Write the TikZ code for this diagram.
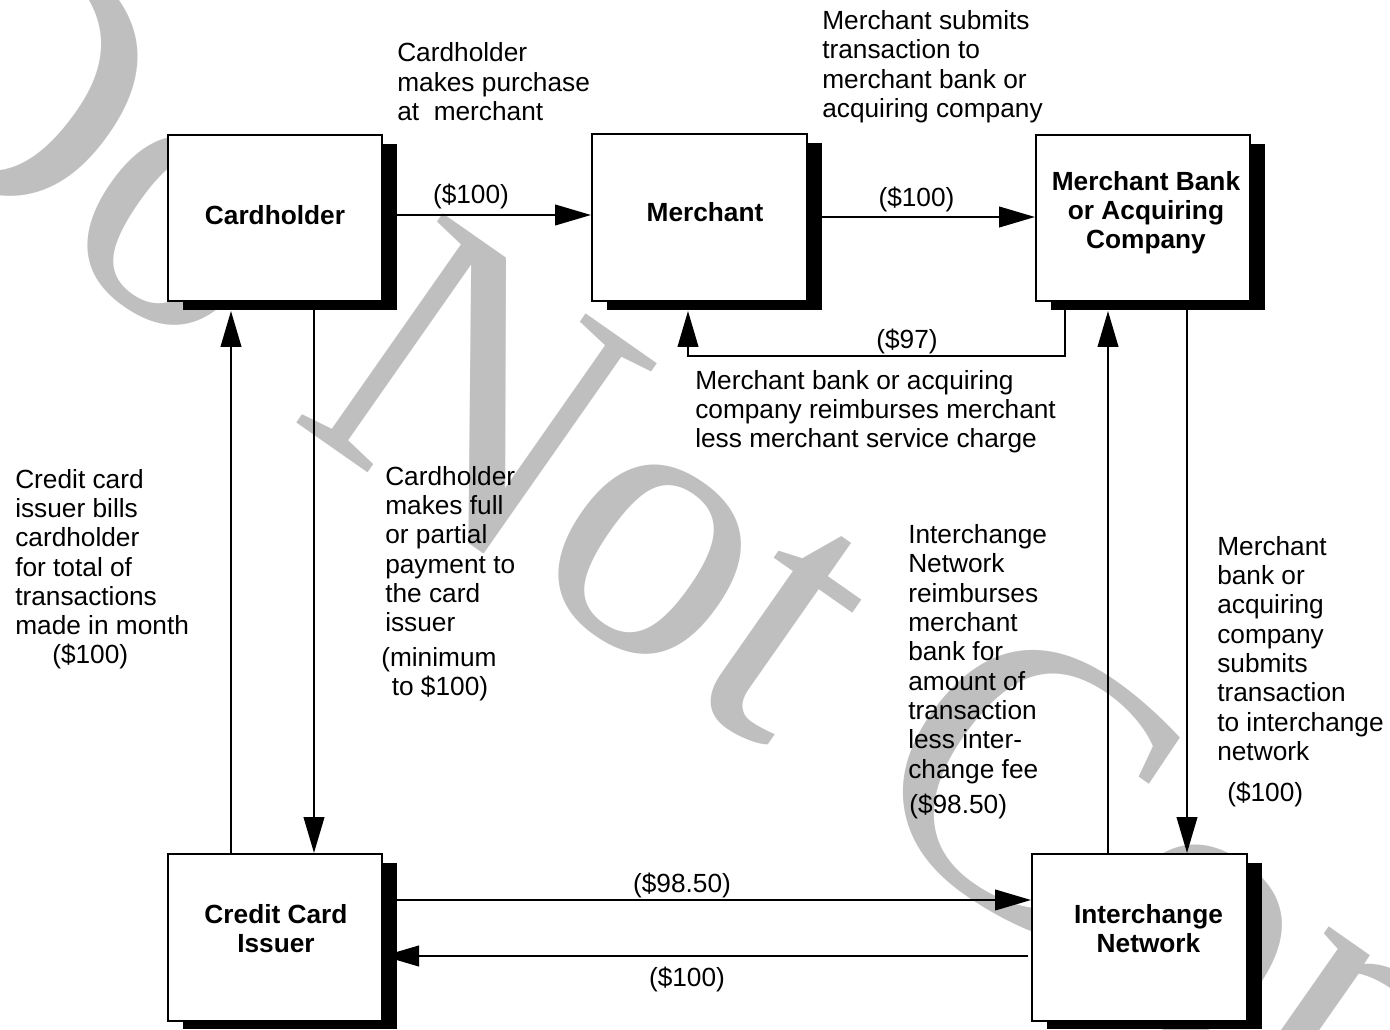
\documentclass[tikz,border=0pt]{standalone}
\usepackage{fontspec}
\setmainfont{Liberation Sans}
\newfontfamily\wmfont{Liberation Serif}
\usetikzlibrary{arrows.meta,calc,shadows}
\definecolor{wm}{RGB}{191,191,191}
\begin{document}
\begin{tikzpicture}[x=0.75pt, y=-0.75pt,
  box/.style={draw, fill=white, line width=1.5pt, inner sep=0pt,
    drop shadow={shadow xshift=10.9pt, shadow yshift=-6.4pt, fill=black, opacity=1}},
  lbl/.style={font=\bfseries\fontsize{19.7}{22}\selectfont, align=center, inner sep=0pt, anchor=north},
  txt/.style={font=\fontsize{19.7}{22}\selectfont, align=left, inner sep=0pt, anchor=north west},
  amt/.style={font=\fontsize{19.7}{22}\selectfont, inner sep=0pt},
  conn/.style={line width=1.5pt},
  arr/.style={conn, -{Triangle[length=27pt,width=15.5pt]}},
  wmk/.style={text=wm, font=\wmfont\fontsize{292.5}{300}\selectfont, inner sep=0pt, rotate=-35, anchor=base west}]

\useasboundingbox (0,0) rectangle (1390,1030);
\fill[white] (0,0) rectangle (1390,1030);

% watermark
\begin{scope}
  \clip (0,0) rectangle (1390,1030);
  \node[wmk] (wmark) at (-183,87) {Do Not Copy};
\end{scope}

% boxes
\node[box, minimum width=160.5pt, minimum height=124.5pt] (ch) at (275,218) {};
\node[box, minimum width=161.25pt, minimum height=124.875pt] (me) at (699.5,217.75) {};
\node[box, minimum width=160.5pt, minimum height=124.5pt] (mb) at (1143,218) {};
\node[box, minimum width=160.5pt, minimum height=124.875pt] (ci) at (275,937.25) {};
\node[box, minimum width=161.25pt, minimum height=124.875pt] (net) at (1139.5,937.25) {};

% box labels
\node[lbl, anchor=base] (chL) at (275,225) {Cardholder};
\node[lbl, anchor=base] (meL) at (705,221.7) {Merchant};
\node[lbl] (mbL) at (1146,169.5) {\strut Merchant Bank\\or Acquiring\\Company};
\node[lbl] (ciL) at (276,902.8) {\strut Credit Card\\Issuer};
\node[lbl] (netL) at (1148.5,902.5) {\strut Interchange\\Network};

% connectors
\draw[arr] ($(ch.east)+(0,-3)$) -- ($(me.west)+(0,-2.75)$);
\draw[arr] ($(me.east)+(0,-0.75)$) -- ($(mb.west)+(0,-1)$);
\draw[arr] ($(mb.south)+(-78,0)$) -- ++(0,54) -| ($(me.south)+(-11.5,9)$);
\draw[arr] ($(net.north)+(-31.5,0)$) -- ($(mb.south)+(-35,9)$);
\draw[arr] ($(mb.south)+(44,0)$) -- ($(net.north)+(47.5,0)$);
\draw[arr] ($(ci.north)+(-44,0)$) -- ($(ch.south)+(-44,9)$);
\draw[arr] ($(ch.south)+(39,0)$) -- ($(ci.north)+(39,0)$);
\draw[arr] ($(ci.east)+(0,-37.25)$) -- ($(net.west)+(0,-37.25)$);
\draw[arr] ($(net.west)+(-3,18.75)$) -- ($(ci.east)+(0,18.75)$);

% amounts
\node[amt, anchor=base] (a1) at (471,204) {(\$100)};
\node[amt, anchor=base] (a2) at (916.5,207) {(\$100)};
\node[amt, anchor=base] (a3) at (907,349) {(\$97)};
\node[amt, anchor=base] (a4) at (682,892) {(\$98.50)};
\node[amt, anchor=base] (a5) at (687,986) {(\$100)};
\node[amt, anchor=base west] (a6) at (52,663) {(\$100)};
\node[amt, anchor=base west] (a7) at (909,813) {(\$98.50)};
\node[amt, anchor=base west] (a8) at (1227,801.7) {(\$100)};

% descriptions
\node[txt] (t1) at (397,41.2) {\strut Cardholder\\makes purchase\\at \ merchant};
\node[txt] (t2) at (822,8.8) {\strut Merchant submits\\transaction to\\merchant bank or\\acquiring company};
\node[txt] (t3) at (695,368.5) {\strut Merchant bank or acquiring\\company reimburses merchant\\less merchant service charge};
\node[txt] (t4) at (15,467.5) {\strut Credit card\\issuer bills\\cardholder\\for total of\\transactions\\made in month};
\node[txt] (t5) at (385,464.5) {\strut Cardholder\\makes full\\or partial\\payment to\\the card\\issuer};
\node[txt] (t5b) at (381,645.5) {\strut (minimum\\\hspace*{7.9pt}to \$100)};
\node[txt] (t6) at (908,522.8) {\strut Interchange\\Network\\reimburses\\merchant\\bank for\\amount of\\transaction\\less inter-\\change fee};
\node[txt] (t7) at (1217,534.5) {\strut Merchant\\bank or\\acquiring\\company\\submits\\transaction\\to interchange\\network};
\end{tikzpicture}
\end{document}
